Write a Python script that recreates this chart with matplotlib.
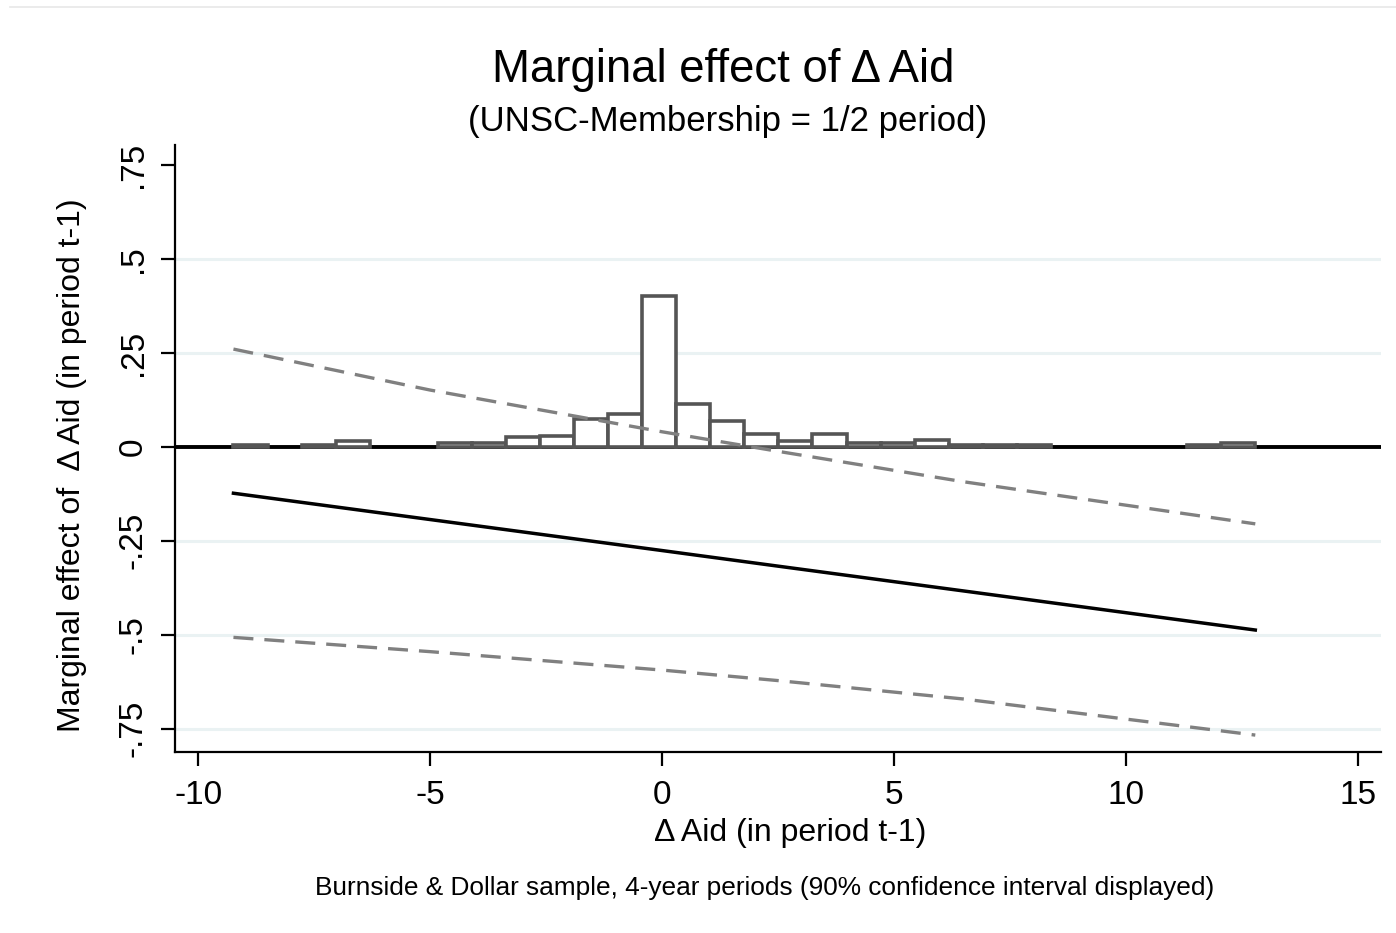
import numpy as np
import matplotlib.pyplot as plt
from matplotlib.lines import Line2D

plt.rcParams['font.family'] = ['Liberation Sans', 'DejaVu Sans']
plt.rcParams['axes.unicode_minus'] = False

# Distribution of Δ Aid (share of observations per bin)
hist_min, hist_max, hist_bins = -9.24, 12.79, 30
hist_frac = [0.0055, 0, 0.0055, 0.0165, 0, 0, 0.011, 0.011, 0.025, 0.029,
             0.074, 0.087, 0.401, 0.114, 0.068, 0.034, 0.016, 0.034, 0.011, 0.011,
             0.018, 0.0055, 0.0055, 0.0055, 0, 0, 0, 0, 0.0055, 0.011]

# Marginal effect with 90% confidence band
me_x = [-9.24, -5.0, 0.0, 2.5, 6.5, 12.79]
me_y = [-0.1235, -0.1935, -0.276, -0.3175, -0.3835, -0.4875]
ci_upper = [0.260, 0.151, 0.040, -0.012, -0.093, -0.205]
ci_lower = [-0.507, -0.545, -0.594, -0.622, -0.671, -0.767]

x_ticks = [-10, -5, 0, 5, 10, 15]
y_ticks = [-0.75, -0.5, -0.25, 0, 0.25, 0.5, 0.75]
y_ticklabels = ["-.75", "-.5", "-.25", "0", ".25", ".5", ".75"]

W, H = 1396, 933
fig = plt.figure(figsize=(W / 100, H / 100), dpi=100)
ax = fig.add_axes([175 / W, 1 - 752 / H, 1206 / W, 607 / H])

# grid lines (none at the top tick)
for yv in y_ticks:
    if yv not in (0, 0.75):
        ax.axhline(yv, color='#eaf2f3', lw=2.2, zorder=0)
ax.axhline(0, color='black', lw=2.8, zorder=1)

edges = np.linspace(hist_min, hist_max, hist_bins + 1)
frac = np.array(hist_frac)
keep = frac > 0
ax.bar(edges[:-1][keep], frac[keep], width=np.diff(edges)[keep], align='edge',
       facecolor='white', edgecolor='#555555', linewidth=2.6, zorder=2)

ax.plot(me_x, ci_upper, color='#808080', lw=2.4, dashes=(6.0, 3.3), zorder=3)
ax.plot(me_x, ci_lower, color='#808080', lw=2.4, dashes=(6.0, 3.3), zorder=3)
ax.plot(me_x, me_y, color='black', lw=2.5, zorder=4)

ax.set_xlim(-10.5, 15.5)
ax.set_ylim(-0.812, 0.803)
ax.set_xticks(x_ticks)
ax.set_yticks(y_ticks)
ax.set_yticklabels(y_ticklabels, rotation=90, va='center')
for s in ['top', 'right']:
    ax.spines[s].set_visible(False)
for s in ['left', 'bottom']:
    ax.spines[s].set_linewidth(1.6)
ax.tick_params(axis='both', length=10, width=1.6, labelsize=24, colors='black')
ax.tick_params(axis='x', pad=10)
ax.tick_params(axis='y', pad=9)

fig.text(790 / W, 1 - 833 / H, "Δ Aid (in period t-1)", fontsize=23,
         ha='center', va='center')
fig.text(72 / W, 1 - 465 / H, "Marginal effect of  Δ Aid (in period t-1)",
         fontsize=23, rotation=90, ha='center', va='center')

fig.text(723 / W, 1 - 70 / H, "Marginal effect of Δ Aid", fontsize=32.8,
         ha='center', va='center')
fig.text(728 / W, 1 - 122 / H, "(UNSC-Membership = 1/2 period)", fontsize=25,
         ha='center', va='center')
fig.text(765 / W, 1 - 888 / H,
         "Burnside & Dollar sample, 4-year periods (90% confidence interval displayed)",
         fontsize=18.9, ha='center', va='center')

fig.add_artist(Line2D([10 / W, 1], [1 - 7 / H, 1 - 7 / H],
                      color='#e8e8e8', lw=1.2, transform=fig.transFigure))

fig.savefig("out.png", dpi=100)
